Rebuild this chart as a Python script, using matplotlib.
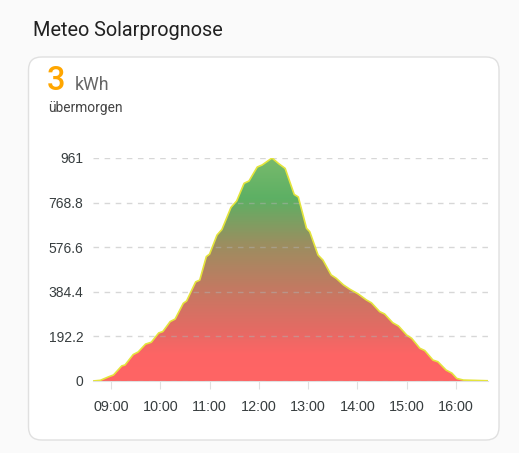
import matplotlib
matplotlib.use("Agg")
import matplotlib.pyplot as plt
import numpy as np
from matplotlib.colors import LinearSegmentedColormap
from matplotlib.patches import FancyBboxPatch, Polygon

plt.rcParams['font.family'] = ['Roboto', 'DejaVu Sans']

title = "Meteo Solarprognose"
total_value = "3"
total_unit = "kWh"
subtitle = "übermorgen"

times = ["08:38", "08:47", "08:57", "09:03", "09:13", "09:17", "09:27", "09:33",
         "09:42", "09:49", "09:58", "10:03", "10:12", "10:18", "10:28", "10:32",
         "10:43", "10:48", "10:56", "11:00", "11:09", "11:15", "11:26", "11:33",
         "11:42", "11:48", "11:58", "12:04", "12:16", "12:24", "12:32", "12:43",
         "12:48", "12:58", "13:02", "13:12", "13:18", "13:28", "13:34", "13:43",
         "13:51", "14:01", "14:11", "14:17", "14:27", "14:33", "14:43", "14:50",
         "15:00", "15:06", "15:16", "15:22", "15:32", "15:38", "15:48", "15:55",
         "16:01", "16:09", "16:39"]
watts = [0, 3, 18, 26, 65, 69, 114, 125,
         159, 167, 207, 213, 256, 267, 335, 345,
         427, 435, 536, 547, 629, 653, 748, 776,
         852, 862, 922, 931, 961, 937, 916, 804,
         793, 658, 643, 543, 521, 457, 443, 414,
         395, 375, 349, 337, 299, 289, 251, 237,
         198, 184, 141, 131, 90, 83, 47, 34,
         11, 4, 1]

y_ticks = [0, 192.2, 384.4, 576.6, 768.8, 961]
y_tick_labels = ["0", "192.2", "384.4", "576.6", "768.8", "961"]
x_ticks = ["09:00", "10:00", "11:00", "12:00", "13:00", "14:00", "15:00", "16:00"]


def to_hours(s):
    h, m = s.split(":")
    return int(h) + int(m) / 60.0


x = np.array([to_hours(t) for t in times])
y = np.array(watts, dtype=float)
xt = [to_hours(t) for t in x_ticks]

W, H = 519, 453
fig = plt.figure(figsize=(W / 100, H / 100), dpi=100)
fig.patch.set_facecolor("#fafafa")

# card
card = FancyBboxPatch((28.5 / W, (H - 440) / H), (499 - 28.5) / W, (440 - 57) / H,
                      boxstyle="round,pad=0,rounding_size=0.025",
                      transform=fig.transFigure, facecolor="white",
                      edgecolor="#e0e0e0", linewidth=1.0, zorder=-5,
                      mutation_aspect=W / H)
fig.patches.append(card)

fig.text(33 / W, 1 - 30 / H, title, fontsize=14.3, color="#212121",
         ha="left", va="center")
fig.text(47 / W, 1 - 89.5 / H, total_value, fontsize=23.5, color="#ffa600",
         ha="left", va="baseline", fontweight="medium")
fig.text(74.5 / W, 1 - 89.5 / H, total_unit, fontsize=12.8, color="#666666",
         ha="left", va="baseline")
fig.text(48 / W, 1 - 112 / H, subtitle, fontsize=9.9, color="#444444",
         ha="left", va="baseline")

ax = fig.add_axes([93 / W, 1 - 381 / H, (488 - 93) / W, (381 - 158) / H])
ax.set_facecolor("none")
ax.set_xlim(x[0], x[-1])
ax.set_ylim(0, 961)

cmap = LinearSegmentedColormap.from_list("solar", [
    (0.0, "#ff6464"),
    (0.12, "#fd6565"),
    (0.22, "#e66a64"),
    (0.42, "#c27a62"),
    (0.62, "#9a8f60"),
    (0.82, "#5db064"),
    (1.0, "#78ba6c"),
])
grad = np.linspace(0, 1, 256).reshape(-1, 1)
img = ax.imshow(grad, extent=[x[0], x[-1], 0, 961], origin="lower",
                aspect="auto", cmap=cmap, zorder=1, interpolation="bilinear")
verts = np.vstack([np.column_stack([x, y]), [[x[-1], 0], [x[0], 0]]])
poly = Polygon(verts, closed=True, facecolor="none", edgecolor="none",
               transform=ax.transData)
ax.add_patch(poly)
img.set_clip_path(poly)
ax.plot(x, y, color="#e4e43c", linewidth=1.2, zorder=3, solid_joinstyle="round")

ax.set_yticks(y_ticks)
ax.set_yticklabels(y_tick_labels, family="Liberation Sans")
ax.set_xticks(xt)
ax.set_xticklabels(x_ticks, family="Liberation Sans")
ax.grid(axis="y", color="#b0b0b0", alpha=0.5, linestyle=(0, (4, 4)), linewidth=1.0, zorder=2)
ax.set_axisbelow(False)
for sp in ["top", "right", "left"]:
    ax.spines[sp].set_visible(False)
ax.spines["bottom"].set_color("#e0e0e0")
ax.spines["bottom"].set_zorder(0.5)
ax.tick_params(axis="y", length=0, pad=7, labelsize=10, labelcolor="#373d3f")
ax.tick_params(axis="x", length=6, color="#e0e0e0", pad=8, labelsize=10.4,
               labelcolor="#373d3f")
for gl in ax.get_ygridlines():
    gl.set_zorder(2)

fig.savefig("out.png", dpi=100, facecolor=fig.get_facecolor())
